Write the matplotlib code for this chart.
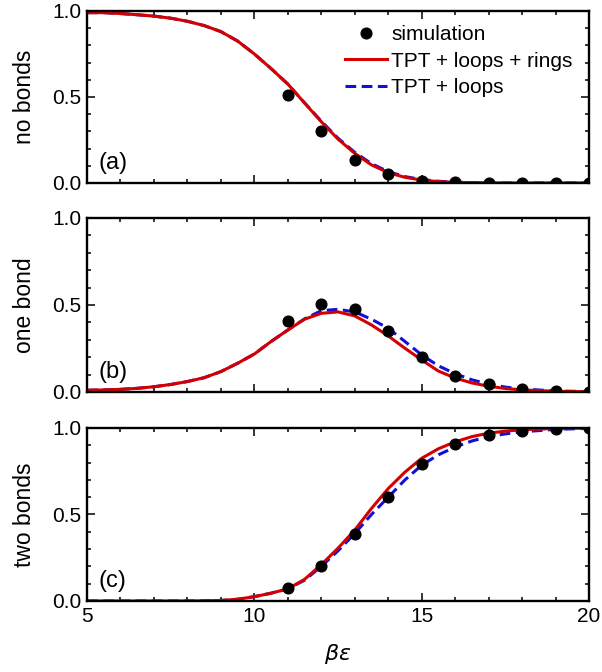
import numpy as np
import matplotlib.pyplot as plt
from matplotlib.ticker import MultipleLocator

plt.rcParams["font.family"] = ["Liberation Sans", "DejaVu Sans"]
plt.rcParams["mathtext.fontset"] = "dejavusans"

# ---- data ----
sim_x = [11, 12, 13, 14, 15, 16, 17, 18, 19, 20]
sim_none = [0.51, 0.30, 0.135, 0.05, 0.012, 0.003, 0.001, 0.0, 0.0, 0.0]
sim_one = [0.41, 0.505, 0.475, 0.352, 0.203, 0.092, 0.044, 0.015, 0.006, 0.0]
sim_two = [0.077, 0.20, 0.39, 0.60, 0.79, 0.91, 0.96, 0.985, 0.995, 1.0]

curve_x = [5, 5.5, 6, 6.5, 7, 7.5, 8, 8.5, 9, 9.5, 10, 10.5, 11, 11.5, 12, 12.5,
           13, 13.5, 14, 14.5, 15, 15.5, 16, 16.5, 17, 17.5, 18, 19, 20]

rings_none = [0.99, 0.99, 0.985, 0.978, 0.97, 0.958, 0.94, 0.915, 0.88, 0.825, 0.75, 0.665,
              0.575, 0.465, 0.356, 0.255, 0.172, 0.105, 0.06, 0.033, 0.017, 0.008, 0.004,
              0.002, 0.001, 0.0, 0.0, 0.0, 0.0]
loops_none = [0.99, 0.99, 0.985, 0.978, 0.97, 0.958, 0.94, 0.915, 0.88, 0.825, 0.75, 0.665,
              0.575, 0.466, 0.359, 0.26, 0.178, 0.112, 0.066, 0.037, 0.02, 0.01, 0.005,
              0.002, 0.001, 0.0, 0.0, 0.0, 0.0]

rings_one = [0.01, 0.012, 0.015, 0.021, 0.03, 0.043, 0.06, 0.082, 0.117, 0.165, 0.218, 0.29,
             0.356, 0.418, 0.452, 0.46, 0.437, 0.385, 0.322, 0.251, 0.184, 0.12, 0.08,
             0.052, 0.033, 0.02, 0.012, 0.004, 0.001]
loops_one = [0.01, 0.012, 0.015, 0.021, 0.03, 0.043, 0.06, 0.082, 0.117, 0.165, 0.218, 0.29,
             0.356, 0.42, 0.467, 0.475, 0.46, 0.418, 0.366, 0.29, 0.213, 0.15, 0.105,
             0.07, 0.045, 0.028, 0.017, 0.006, 0.002]

rings_two = [0.0, 0.0, 0.0, 0.0, 0.0, 0.0, 0.0, 0.001, 0.003, 0.01, 0.025, 0.045,
             0.07, 0.125, 0.21, 0.305, 0.41, 0.535, 0.65, 0.745, 0.825, 0.88, 0.92,
             0.95, 0.97, 0.982, 0.99, 0.997, 1.0]
loops_two = [0.0, 0.0, 0.0, 0.0, 0.0, 0.0, 0.0, 0.001, 0.003, 0.01, 0.025, 0.045,
             0.07, 0.12, 0.2, 0.29, 0.39, 0.50, 0.60, 0.70, 0.785, 0.845, 0.89,
             0.925, 0.95, 0.966, 0.978, 0.992, 0.998]

ylabels = ["no bonds", "one bond", "two bonds"]
tags = ["(a)", "(b)", "(c)"]

red = "#d40000"
blue = "#1010d8"

fig = plt.figure(figsize=(6.02, 6.72), dpi=100)
boxes = [[0.1445, 0.7277, 0.834, 0.256],
         [0.1445, 0.4167, 0.834, 0.259],
         [0.1445, 0.1057, 0.834, 0.2574]]

panels = [(sim_none, rings_none, loops_none),
          (sim_one, rings_one, loops_one),
          (sim_two, rings_two, loops_two)]

for i, (box, (sim, rings, loops)) in enumerate(zip(boxes, panels)):
    ax = fig.add_axes(box)
    l_loops, = ax.plot(curve_x, loops, color=blue, lw=2.2, ls=(0, (3.5, 1.8)), label="TPT + loops")
    l_rings, = ax.plot(curve_x, rings, color=red, lw=2.2, label="TPT + loops + rings")
    l_sim, = ax.plot(sim_x, sim, "o", color="k", ms=7.7, ls="none", label="simulation", zorder=5)

    ax.set_xlim(5, 20)
    ax.set_ylim(0, 1)
    ax.xaxis.set_major_locator(MultipleLocator(5))
    ax.xaxis.set_minor_locator(MultipleLocator(1))
    ax.yaxis.set_major_locator(MultipleLocator(0.5))
    ax.yaxis.set_minor_locator(MultipleLocator(0.1))
    ax.yaxis.set_major_formatter(plt.FormatStrFormatter("%.1f"))
    ax.tick_params(which="both", direction="in", top=True, right=True, width=1.1,
                   labelsize=15, pad=4)
    ax.tick_params(which="major", length=6)
    ax.tick_params(which="minor", length=3.2)
    for sp in ax.spines.values():
        sp.set_linewidth(1.7)
    ax.set_ylabel(ylabels[i], fontsize=16.5, labelpad=12)
    ax.text(0.022, 0.05, tags[i], transform=ax.transAxes, fontsize=17, ha="left", va="bottom")
    if i < 2:
        ax.tick_params(labelbottom=False)
    else:
        ax.set_xlabel(r"$\beta\varepsilon$", fontsize=16, labelpad=12)
    if i == 0:
        ax.legend(handles=[l_sim, l_rings, l_loops], loc="upper right",
                  bbox_to_anchor=(0.975, 0.94), frameon=False, fontsize=15,
                  handlelength=2.0, handletextpad=0.2, labelspacing=0.35,
                  borderaxespad=0.0, borderpad=0.2)

fig.savefig("out.png", dpi=100)
